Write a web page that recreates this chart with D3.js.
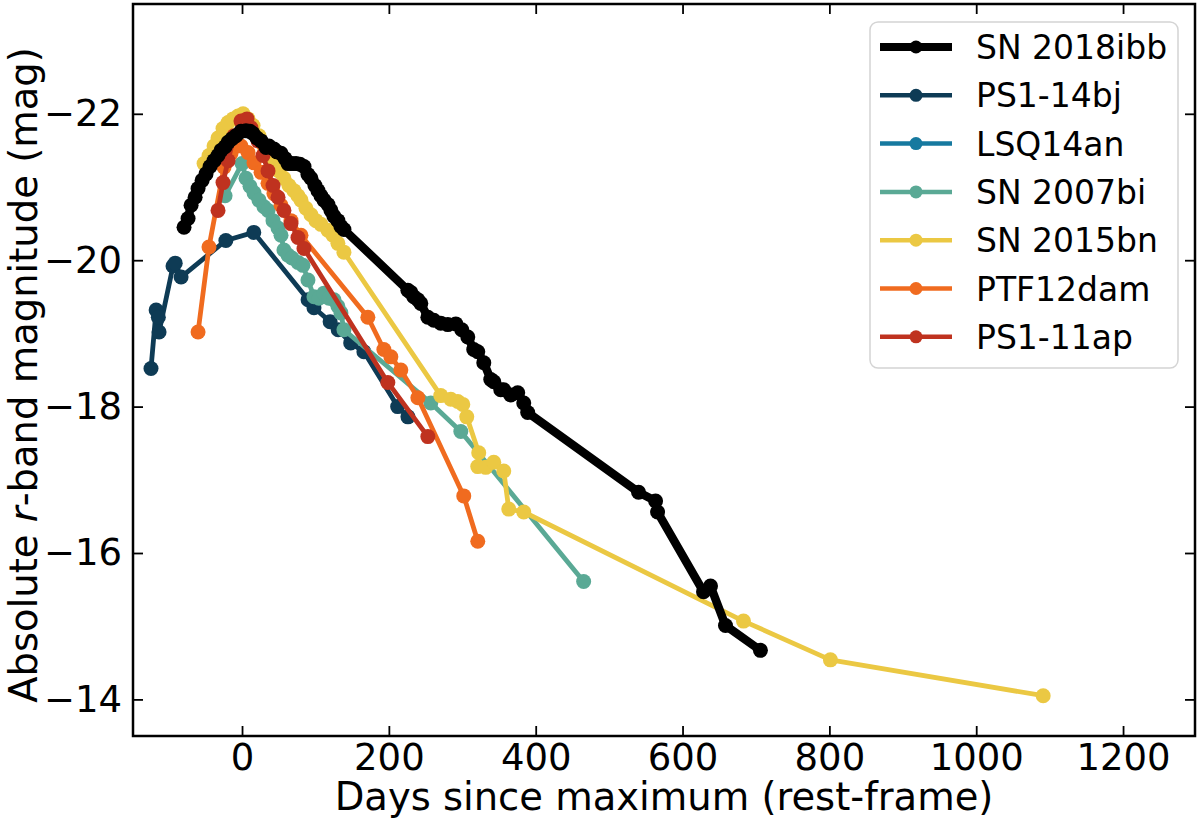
<!DOCTYPE html>
<html>
<head>
<meta charset="utf-8">
<script src="https://cdn.jsdelivr.net/npm/d3@7"></script>
<style>
  html, body { margin: 0; padding: 0; background: #fff; }
  svg { display: block; font-family: "DejaVu Sans", sans-serif; }
</style>
</head>
<body>
<svg id="chart" width="1200" height="823"></svg>
<script>
// light curves: [days since max (rest-frame), absolute r-band mag]
const sn2018ibb = [
    [-79, -20.45], [-73.5, -20.57], [-69.4, -20.75], [-63.9, -20.86], [-59.9, -20.98],
    [-54.4, -21.09], [-49, -21.18], [-43.5, -21.28], [-38.1, -21.36], [-32.7, -21.43],
    [-28.6, -21.5], [-23.1, -21.55], [-19, -21.61], [-13.6, -21.66], [-8.2, -21.7],
    [-1.4, -21.76], [5.4, -21.77], [10.9, -21.76], [15, -21.73], [20.4, -21.67],
    [25.9, -21.63], [32.7, -21.54], [36.7, -21.56], [43.5, -21.52], [47.6, -21.48],
    [53.1, -21.46], [58.5, -21.39], [62.6, -21.32], [68, -21.32], [73.5, -21.32],
    [78.9, -21.31], [84.4, -21.28], [89.8, -21.17], [93.9, -21.12], [99.3, -21.02],
    [103.4, -20.95], [107.5, -20.88], [111.6, -20.82], [117, -20.76], [121.1, -20.68],
    [125.2, -20.6], [130.6, -20.54], [134.7, -20.46], [138.8, -20.42],
    [225.9, -19.59], [229.9, -19.56], [234, -19.5], [239.5, -19.46], [243.5, -19.41],
    [253.1, -19.22], [261.2, -19.18], [270.7, -19.14], [280.3, -19.12], [291.2, -19.13],
    [299.3, -19.05], [307.5, -18.95], [315.6, -18.78], [321.1, -18.75], [329.3, -18.6],
    [338.8, -18.37], [342.9, -18.34], [352.4, -18.23], [356.5, -18.23], [366, -18.16],
    [375.5, -18.19], [383.7, -18.05], [389.1, -17.92],
    [540.1, -16.83], [563.3, -16.71], [566, -16.56], [628.6, -15.47], [638.1, -15.55],
    [658.5, -15.01], [706.1, -14.67]
];
const ps1_14bj = [
    [-124, -18.52], [-117, -19.32], [-114, -19.22], [-113, -19.02], [-94, -19.92],
    [-91, -19.96], [-83, -19.77], [-22, -20.27], [16, -20.38], [90, -19.46],
    [98, -19.35], [120, -19.16], [131, -19.05], [148, -18.87], [166, -18.75],
    [212, -18.0], [226, -17.86]
];
const lsq14an = []; // in the legend only, no points visible in the panel
const sn2007bi = [
    [-23.1, -20.88], [0, -21.32], [5.4, -21.12], [10.9, -21.01], [16.3, -20.92],
    [23.1, -20.82], [29.9, -20.73], [35.4, -20.68], [42.2, -20.54], [49, -20.44],
    [53.1, -20.34], [57.1, -20.14], [62.6, -20.07], [68, -20.03], [76.2, -19.97],
    [83, -19.93], [89.8, -19.73], [98, -19.5], [104.8, -19.48], [111.6, -19.55],
    [118.4, -19.48], [125.2, -19.46], [130.6, -19.37], [134.7, -19.28], [138.8, -19.05],
    [257.1, -18.05], [298, -17.66], [465.3, -15.61]
];
const sn2015bn = [
    [-51.7, -21.32], [-44.9, -21.43], [-38.1, -21.56], [-32.7, -21.67], [-25.9, -21.8],
    [-19, -21.88], [-12.2, -21.93], [-5.4, -21.97], [1.4, -22.0], [8.2, -21.93],
    [15, -21.84], [23.1, -21.7], [29.9, -21.56], [36.7, -21.47], [43.5, -21.36],
    [50.3, -21.22], [57.1, -21.12], [63.9, -21.02], [70.7, -20.95], [76.2, -20.88],
    [80.3, -20.82], [87.1, -20.71], [93.9, -20.62], [100.7, -20.54], [107.5, -20.49],
    [117, -20.41], [123.8, -20.34], [130.6, -20.23], [138.8, -20.11],
    [270.7, -18.15], [284.4, -18.1], [293.9, -18.07], [300.7, -18.03], [306.1, -17.86],
    [322.4, -17.37], [321.1, -17.18], [332, -17.17], [342.9, -17.24], [356.5, -17.12],
    [363.3, -16.6], [383.7, -16.56], [683, -15.07], [801.4, -14.54], [1091.2, -14.05]
];
const ptf12dam = [
    [-59.9, -19.02], [-45, -20.18], [-24.5, -21.27], [-15, -21.46], [-1.4, -21.56],
    [8.2, -21.47], [16.3, -21.33], [25.9, -21.2], [35.4, -21.05], [43.5, -20.91],
    [53.1, -20.75], [66.7, -20.54], [80.3, -20.34], [171.4, -19.22], [193.2, -18.78],
    [202.7, -18.68], [216.3, -18.5], [239.5, -18.12], [302, -16.78], [321.1, -16.16]
];
const ps1_11ap = [
    [-32.7, -20.68], [-25.9, -21.06], [-19, -21.36], [-10.9, -21.7], [-1.4, -21.9],
    [6.8, -21.93], [12.2, -21.81], [21.8, -21.63], [28.6, -21.43], [35.4, -21.22],
    [42.2, -21.02], [49, -20.86], [57.1, -20.68], [66.7, -20.5], [76.2, -20.31],
    [84.4, -20.16], [198.6, -18.33], [253.1, -17.59]
];

const seriesNames = ['SN 2018ibb', 'PS1-14bj', 'LSQ14an', 'SN 2007bi', 'SN 2015bn', 'PTF12dam', 'PS1-11ap'];
const seriesData = [sn2018ibb, ps1_14bj, lsq14an, sn2007bi, sn2015bn, ptf12dam, ps1_11ap];
const seriesColors = ['#000000', '#0e3b55', '#16799f', '#5aa995', '#ebc843', '#f06b1f', '#bf321f'];

const xTicks = [0, 200, 400, 600, 800, 1000, 1200];
const yTicks = [-22, -20, -18, -16, -14];

const svg = d3.select('#chart');
const frame = { left: 133, right: 1195, top: 4, bottom: 736 };

const x = d3.scaleLinear().domain([-148.5, 1298]).range([frame.left, frame.right]);
const y = d3.scaleLinear().domain([-23.5, -13.5]).range([frame.top, frame.bottom]);

const line = d3.line().x(d => x(d[0])).y(d => y(d[1]));

// comparison objects first, SN 2018ibb last so it sits on top
const drawOrder = [1, 2, 3, 4, 5, 6, 0];
const plot = svg.append('g');
drawOrder.forEach(i => {
    const g = plot.append('g');
    const main = i === 0;
    g.append('path')
        .datum(seriesData[i])
        .attr('fill', 'none')
        .attr('stroke', seriesColors[i])
        .attr('stroke-width', main ? 8.5 : 4.8)
        .attr('stroke-linejoin', 'round')
        .attr('d', line);
    g.selectAll('circle')
        .data(seriesData[i])
        .join('circle')
        .attr('cx', d => x(d[0]))
        .attr('cy', d => y(d[1]))
        .attr('r', 7.5)
        .attr('fill', seriesColors[i]);
});

// axes: ticks inward on all four sides
function styleAxis(g) {
    g.select('.domain').remove();
    g.selectAll('.tick line').attr('stroke', '#000').attr('stroke-width', 1.8);
    g.selectAll('.tick text').attr('fill', '#000').attr('font-size', 37)
        .attr('font-family', '"DejaVu Sans", sans-serif');
}

const fmt = d3.format('d');

svg.append('g')
    .attr('transform', `translate(0,${frame.bottom})`)
    .call(d3.axisBottom(x).tickValues(xTicks).tickSize(-10).tickPadding(8).tickFormat(fmt))
    .call(styleAxis);
svg.append('g')
    .attr('transform', `translate(0,${frame.top})`)
    .call(d3.axisTop(x).tickValues(xTicks).tickSize(-10).tickFormat(''))
    .call(styleAxis);
svg.append('g')
    .attr('transform', `translate(${frame.left},0)`)
    .call(d3.axisLeft(y).tickValues(yTicks).tickSize(-10).tickPadding(11).tickFormat(fmt))
    .call(styleAxis);
svg.append('g')
    .attr('transform', `translate(${frame.right},0)`)
    .call(d3.axisRight(y).tickValues(yTicks).tickSize(-10).tickFormat(''))
    .call(styleAxis);

svg.append('rect')
    .attr('x', frame.left).attr('y', frame.top)
    .attr('width', frame.right - frame.left).attr('height', frame.bottom - frame.top)
    .attr('fill', 'none').attr('stroke', '#000').attr('stroke-width', 2.5);

// axis labels
svg.append('text')
    .attr('x', (frame.left + frame.right) / 2)
    .attr('y', 810)
    .attr('text-anchor', 'middle')
    .attr('font-size', 38.5)
    .text('Days since maximum (rest-frame)');

const yLabel = svg.append('text')
    .attr('transform', 'translate(37,375) rotate(-90)')
    .attr('text-anchor', 'middle')
    .attr('font-size', 38.5);
yLabel.append('tspan').text('Absolute ');
yLabel.append('tspan').attr('font-style', 'italic').text('r');
yLabel.append('tspan').text('-band magnitude (mag)');

// legend
const legend = svg.append('g');
legend.append('rect')
    .attr('x', 870).attr('y', 22)
    .attr('width', 308).attr('height', 346)
    .attr('rx', 8)
    .attr('fill', '#fff').attr('fill-opacity', 0.8)
    .attr('stroke', '#d4d4d4').attr('stroke-width', 1.5);

const rows = legend.selectAll('g.row')
    .data(seriesNames)
    .join('g')
    .attr('class', 'row')
    .attr('transform', (d, i) => `translate(0,${47 + i * 48.3})`);
rows.append('line')
    .attr('x1', 880).attr('x2', 952)
    .attr('stroke', (d, i) => seriesColors[i])
    .attr('stroke-width', (d, i) => i === 0 ? 8 : 4.5);
rows.append('circle')
    .attr('cx', 916).attr('r', 6.5)
    .attr('fill', (d, i) => seriesColors[i]);
rows.append('text')
    .attr('x', 976).attr('y', 12)
    .attr('font-size', 33)
    .text(d => d);
</script>
</body>
</html>
